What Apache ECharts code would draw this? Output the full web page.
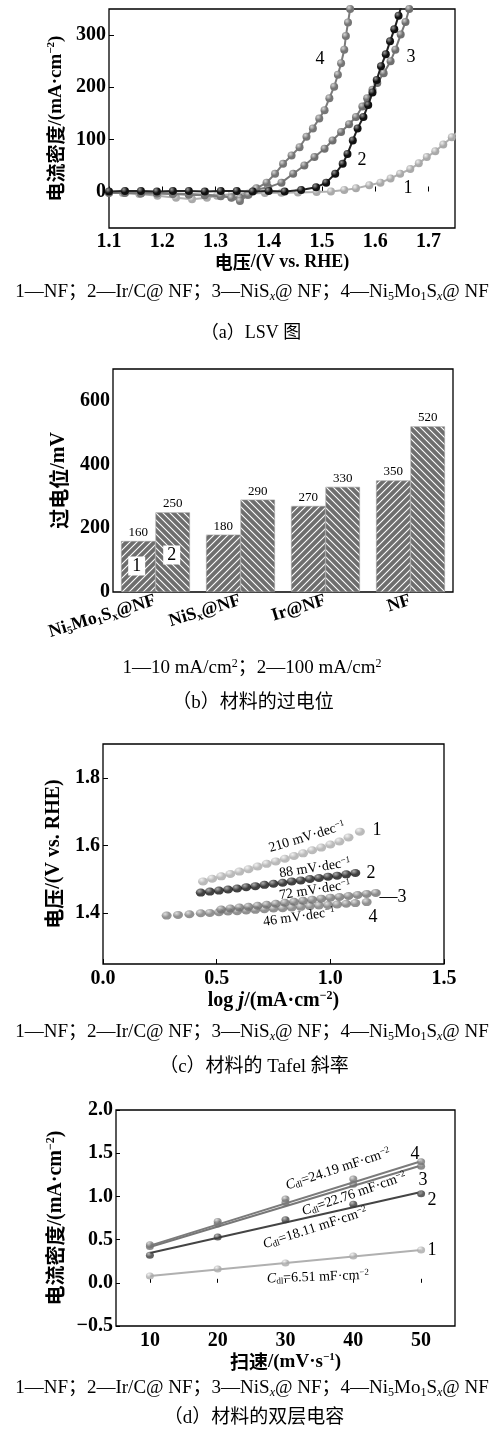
<!DOCTYPE html>
<html><head><meta charset="utf-8">
<script src="https://cdn.jsdelivr.net/npm/echarts@6/dist/echarts.min.js"></script>
<style>html,body{margin:0;padding:0;background:#fff}#c{width:499px;height:1437px}</style>
</head><body><div id="c"></div>
<script>
// ---------- Panel (a) LSV ----------
const lsvX1 = [1.10,1.126,1.157,1.191,1.226,1.256,1.284,1.303,1.331,1.362,1.393,1.424,1.455,1.49,1.517,1.542,1.564,1.589,1.61,1.629,1.647,1.666,1.682,1.697,1.713,1.728,1.744,1.76];
const lsvY1 = [-2,-3,-5,-8,-12,-15,-12,-8,-5,-4,-3,-2.5,-2,-1,0,3,6,12,17,25,34,43,54,66,77,90,104,118];
const lsvX2 = [1.10,1.13,1.16,1.19,1.22,1.25,1.28,1.31,1.34,1.37,1.40,1.43,1.461,1.489,1.508,1.525,1.539,1.548,1.558,1.567,1.578,1.587,1.595,1.603,1.611,1.62,1.628,1.636,1.644,1.652];
const lsvY2 = [0,1,1,0,1,1,0,1,1,0,1,0,3,8,17,34,53,72,98,121,143,166,190,214,240,263,288,311,337,365];
const lsvX3 = [1.10,1.13,1.16,1.19,1.22,1.25,1.28,1.31,1.33,1.346,1.36,1.374,1.399,1.424,1.446,1.467,1.486,1.505,1.52,1.536,1.551,1.564,1.576,1.585,1.595,1.604,1.616,1.629,1.638,1.648,1.657,1.664,1.67];
const lsvY3 = [-3,-3,-4,-4,-5,-6,-7,-9,-11,-12,-6,3,8,17,34,50,66,82,98,114,129,143,163,179,195,208,227,250,272,301,325,350,370];
const lsvX4 = [1.10,1.13,1.16,1.19,1.22,1.25,1.28,1.31,1.33,1.346,1.362,1.377,1.396,1.412,1.427,1.443,1.458,1.471,1.483,1.495,1.505,1.514,1.523,1.53,1.536,1.542,1.545,1.549,1.553,1.557];
const lsvY4 = [-2,-2,-3,-3,-4,-5,-6,-8,-12,-18,-6,6,17,34,53,69,85,105,121,140,156,179,201,224,246,272,298,324,350,372];
const lsvXTicks = [1.1,1.2,1.3,1.4,1.5,1.6,1.7];
const lsvYTicks = [0,100,200,300];

// ---------- Panel (b) overpotential ----------
const ovCats = ['Ni5Mo1Sx@NF','NiSx@NF','Ir@NF','NF'];
const ov10 = [160,180,270,350];
const ov100 = [250,290,330,520];

// ---------- Panel (c) Tafel ----------
const tfX1 = [0.44,0.48,0.52,0.56,0.60,0.64,0.68,0.72,0.76,0.80,0.84,0.88,0.92,0.96,1.00,1.04,1.08,1.13];
const tfY1 = [1.494,1.502,1.509,1.516,1.523,1.530,1.538,1.546,1.553,1.561,1.569,1.577,1.586,1.594,1.603,1.612,1.624,1.641];
const tfX2 = [0.43,0.47,0.51,0.55,0.59,0.63,0.67,0.71,0.75,0.79,0.83,0.87,0.91,0.95,0.99,1.03,1.07,1.11];
const tfY2 = [1.461,1.464,1.467,1.470,1.473,1.477,1.480,1.484,1.487,1.490,1.494,1.497,1.501,1.504,1.508,1.511,1.515,1.519];
const tfX3 = [0.52,0.56,0.60,0.64,0.68,0.72,0.76,0.80,0.84,0.88,0.92,0.96,1.00,1.04,1.08,1.12,1.16,1.20];
const tfY3 = [1.411,1.414,1.417,1.419,1.422,1.425,1.428,1.431,1.434,1.437,1.440,1.443,1.446,1.448,1.451,1.454,1.457,1.460];
const tfX4 = [0.28,0.33,0.38,0.43,0.47,0.51,0.55,0.59,0.63,0.67,0.71,0.75,0.79,0.83,0.87,0.91,0.95,0.99,1.03,1.07,1.11,1.16];
const tfY4 = [1.393,1.395,1.397,1.400,1.401,1.403,1.405,1.406,1.408,1.410,1.412,1.414,1.415,1.417,1.419,1.421,1.423,1.424,1.426,1.428,1.430,1.433];
const tfXTicks = [0.0,0.5,1.0,1.5];
const tfYTicks = [1.4,1.6,1.8];

// ---------- Panel (d) double-layer capacitance ----------
const cdlX = [10,20,30,40,50];
const cdlY1 = [0.08,0.16,0.23,0.31,0.38];
const cdlY2 = [0.32,0.53,0.73,0.91,1.03];
const cdlY3 = [0.42,0.68,0.93,1.14,1.35];
const cdlY4 = [0.44,0.71,0.97,1.20,1.40];
const fitX = [10,50];
const fitY1 = [0.08,0.38];
const fitY2 = [0.346,1.05];
const fitY3 = [0.415,1.358];
const fitY4 = [0.43,1.407];
const cdlXTicks = [10,20,30,40,50];
const cdlYTicks = [-0.5,0.0,0.5,1.0,1.5,2.0];

// ---------- helpers ----------
const SERIF = "'Liberation Serif','Noto Sans CJK SC',serif";
const CJK = "'Noto Sans CJK SC','Liberation Serif',sans-serif";
function zip(xs, ys){ return xs.map((x,i)=>[x, ys[i]]); }
function ball(base, hi){
  return {type:'radial', x:0.35, y:0.3, r:0.75, colorStops:[{offset:0,color:hi},{offset:0.55,color:base},{offset:1,color:base}]};
}
function hatch(dir){
  const c = document.createElement('canvas'); c.width = 7; c.height = 7;
  const g = c.getContext('2d');
  g.fillStyle = '#6e6e6e'; g.fillRect(0,0,7,7);
  g.strokeStyle = '#ffffff'; g.lineWidth = 1.1;
  g.beginPath();
  if (dir === '/') {
    g.moveTo(-1,8); g.lineTo(8,-1);
    g.moveTo(-4.5,4.5); g.lineTo(4.5,-4.5);
    g.moveTo(2.5,11.5); g.lineTo(11.5,2.5);
  } else {
    g.moveTo(-1,-1); g.lineTo(8,8);
    g.moveTo(-4.5,2.5); g.lineTo(4.5,11.5);
    g.moveTo(2.5,-4.5); g.lineTo(11.5,4.5);
  }
  g.stroke();
  return {image:c, repeat:'repeat'};
}
function richFor(size){
  const s = Math.round(size*0.62);
  const d = Math.round(size*0.45);
  return {
    sub:{font:s+'px '+SERIF, padding:[d,0,0,0]},
    subi:{font:'italic '+s+'px '+SERIF, padding:[d,0,0,0]},
    sup:{font:s+'px '+SERIF, padding:[0,0,d,0]},
    it:{font:'italic '+size+'px '+SERIF}
  };
}
function axisStyle(fs){
  return {fontFamily:SERIF, fontWeight:'bold', fontSize:fs, color:'#000'};
}
const C1 = {base:'#a9a9a9', hi:'#eeeeee', line:'#b0b0b0'};
const C2 = {base:'#111111', hi:'#9a9a9a', line:'#222222'};
const C3 = {base:'#6f6f6f', hi:'#d0d0d0', line:'#777777'};
const C4 = {base:'#767676', hi:'#d6d6d6', line:'#7b7b7b'};

const chart = echarts.init(document.getElementById('c'), null, {renderer:'canvas'});

const grids = [
  {left:109, top:9, width:346, height:219},
  {left:113, top:369, width:340, height:223},
  {left:103, top:744, width:341, height:220},
  {left:116, top:1110, width:339, height:216}
].map(g=>Object.assign({show:true, borderColor:'#000', borderWidth:1.3, backgroundColor:'transparent'}, g));

function nameStyle(fs){
  return {fontFamily:CJK, fontWeight:'bold', fontSize:fs, color:'#000', rich:{
    sup:{fontSize:Math.round(fs*0.6), padding:[0,0,Math.round(fs*0.45),0], fontFamily:SERIF, fontWeight:'bold'},
    it:{fontStyle:'italic', fontFamily:SERIF, fontWeight:'bold', fontSize:fs+1},
    b:{fontFamily:SERIF, fontWeight:'bold', fontSize:fs}
  }};
}

const xAxes = [
  {gridIndex:0, type:'value', min:1.1, max:1.75,
   axisLine:{show:false}, splitLine:{show:false},
   axisTick:{inside:true, length:5, lineStyle:{color:'#000'}, customValues:lsvXTicks},
   axisLabel:{customValues:lsvXTicks, formatter:v=>v.toFixed(1), margin:4, ...axisStyle(20)},
   name:'电压{b|/(V vs. RHE)}', nameLocation:'middle', nameGap:15, nameTextStyle:nameStyle(18)},
  {gridIndex:1, type:'category', data:ovCats,
   axisLine:{show:false}, axisTick:{show:false},
   axisLabel:{rotate:17, margin:8, ...axisStyle(18),
     formatter:v=>({'Ni5Mo1Sx@NF':'Ni{sub|5}Mo{sub|1}S{sub|x}@NF','NiSx@NF':'NiS{sub|x}@NF'}[v]||v),
     rich:{sub:{fontSize:11, padding:[9,0,0,0], fontFamily:SERIF, fontWeight:'bold'}}}},
  {gridIndex:2, type:'value', min:0, max:1.5,
   axisLine:{show:false}, splitLine:{show:false},
   axisTick:{inside:true, length:5, lineStyle:{color:'#000'}, customValues:tfXTicks},
   axisLabel:{customValues:tfXTicks, formatter:v=>v.toFixed(1), margin:5, ...axisStyle(20)},
   name:'{b|log }{it|j}{b|/(mA·cm}{sup|−2}{b|)}', nameLocation:'middle', nameGap:17, nameTextStyle:nameStyle(20)},
  {gridIndex:3, type:'value', min:5, max:55,
   axisLine:{show:false}, splitLine:{show:false},
   axisTick:{inside:true, length:4, lineStyle:{color:'#000'}, customValues:cdlXTicks},
   axisLabel:{customValues:cdlXTicks, margin:5, ...axisStyle(20)},
   name:'扫速{b|/(mV·s}{sup|−1}{b|)}', nameLocation:'middle', nameGap:17, nameTextStyle:nameStyle(19)}
];
const yAxes = [
  {gridIndex:0, type:'value', min:-70, max:350,
   axisLine:{show:false}, splitLine:{show:false},
   axisTick:{inside:true, length:5, lineStyle:{color:'#000'}, customValues:lsvYTicks},
   axisLabel:{customValues:lsvYTicks, margin:3, ...axisStyle(20)},
   name:'电流密度{b|/(mA·cm}{sup|−2}{b|)}', nameLocation:'middle', nameGap:39, nameTextStyle:nameStyle(19)},
  {gridIndex:1, type:'value', min:0, max:700, interval:200,
   axisLine:{show:false}, splitLine:{show:false},
   axisTick:{inside:true, length:6, lineStyle:{color:'#000'}},
   axisLabel:{margin:3, ...axisStyle(20), formatter:v=> v>600?'':v},
   name:'过电位{b|/mV}', nameLocation:'middle', nameGap:42, nameTextStyle:nameStyle(20)},
  {gridIndex:2, type:'value', min:1.25, max:1.9,
   axisLine:{show:false}, splitLine:{show:false},
   axisTick:{inside:true, length:5, lineStyle:{color:'#000'}, customValues:tfYTicks},
   axisLabel:{customValues:tfYTicks, formatter:v=>v.toFixed(1), margin:3, ...axisStyle(20)},
   name:'电压{b|/(V vs. RHE)}', nameLocation:'middle', nameGap:35, nameTextStyle:nameStyle(20)},
  {gridIndex:3, type:'value', min:-0.5, max:2.0,
   axisLine:{show:false}, splitLine:{show:false},
   axisTick:{inside:true, length:4, lineStyle:{color:'#000'}, customValues:cdlYTicks},
   axisLabel:{customValues:cdlYTicks, formatter:v=>(v<0?'−':'')+Math.abs(v).toFixed(1), margin:3, ...axisStyle(20)},
   name:'电流密度{b|/(mA·cm}{sup|−2}{b|)}', nameLocation:'middle', nameGap:42, nameTextStyle:nameStyle(20)}
];

function lsvSeries(xs, ys, col, z){
  return {type:'line', xAxisIndex:0, yAxisIndex:0, data:zip(xs,ys), clip:true, z:z,
    lineStyle:{color:col.line, width:2}, symbol:'circle', symbolSize:8, showAllSymbol:true,
    itemStyle:{color:ball(col.base,col.hi)}};
}
function tfSeries(xs, ys, col, z){
  return {type:'scatter', xAxisIndex:2, yAxisIndex:2, data:zip(xs,ys), z:z,
    symbol:'circle', symbolSize:[10,8], itemStyle:{color:ball(col.base,col.hi)}};
}
function cdlSeries(ys, fy, col, z){
  return [
    {type:'line', xAxisIndex:3, yAxisIndex:3, data:zip(fitX,fy), z:z, symbol:'none',
     lineStyle:{color:col.line, width:2}},
    {type:'scatter', xAxisIndex:3, yAxisIndex:3, data:zip(cdlX,ys), z:z+1,
     symbol:'circle', symbolSize:[8,7], itemStyle:{color:ball(col.base,col.hi)}}
  ];
}
const barLabel = {show:true, position:'top', distance:2, fontFamily:SERIF, fontSize:13, color:'#000'};

const series = [
  lsvSeries(lsvX1, lsvY1, C1, 2),
  lsvSeries(lsvX3, lsvY3, C3, 3),
  lsvSeries(lsvX4, lsvY4, C4, 4),
  lsvSeries(lsvX2, lsvY2, C2, 5),
  {type:'bar', xAxisIndex:1, yAxisIndex:1, data:ov10, barGap:'0%', barCategoryGap:'19%',
   itemStyle:{color:hatch('/'), borderColor:'#9a9a9a', borderWidth:0.6}, label:barLabel},
  {type:'bar', xAxisIndex:1, yAxisIndex:1, data:ov100, barGap:'0%', barCategoryGap:'19%',
   itemStyle:{color:hatch('\\'), borderColor:'#9a9a9a', borderWidth:0.6}, label:barLabel},
  tfSeries(tfX1, tfY1, C1, 2),
  tfSeries(tfX4, tfY4, C4, 3),
  tfSeries(tfX3, tfY3, C3, 4),
  tfSeries(tfX2, tfY2, C2, 5),
  ...cdlSeries(cdlY1, fitY1, C1, 2),
  ...cdlSeries(cdlY2, fitY2, {base:'#3a3a3a', hi:'#aaaaaa', line:'#444444'}, 4),
  ...cdlSeries(cdlY3, fitY3, C3, 6),
  ...cdlSeries(cdlY4, fitY4, C4, 8)
];

function txt(text, x, y, opt){
  opt = opt || {};
  const size = opt.size || 16;
  return {type:'text', x:x, y:y, rotation:(opt.rot||0)*Math.PI/180, z:100,
    style:Object.assign({text:text, fill:'#000', align:'center', verticalAlign:'middle',
      font:(opt.weight||'normal')+' '+size+'px '+(opt.family||SERIF), rich:richFor(size)}, opt.style||{})};
}
const legendLine = '1—NF；2—Ir/C@ NF；3—NiS{subi|x}@ NF；4—Ni{sub|5}Mo{sub|1}S{subi|x}@ NF';
const graphics = [
  // panel a
  txt('4', 320, 59, {size:18}), txt('3', 411, 57, {size:18}), txt('2', 362, 160, {size:18}), txt('1', 408, 188, {size:18}),
  txt(legendLine, 252, 292, {size:19}),
  txt('（a）LSV 图', 251, 333, {size:18}),
  // panel b
  txt('1', 136.7, 566, {size:18, style:{backgroundColor:'#fff', padding:[1,4,0,4]}}),
  txt('2', 171.7, 555, {size:18, style:{backgroundColor:'#fff', padding:[1,4,0,4]}}),
  txt('1—10 mA/cm{sup|2}；2—100 mA/cm{sup|2}', 252, 668, {size:19}),
  txt('（b）材料的过电位', 253, 703, {size:19}),
  // panel c
  txt('210 mV·dec{sup|−1}', 307, 837, {size:14, rot:17}),
  txt('88 mV·dec{sup|−1}', 315, 868, {size:14, rot:9}),
  txt('72 mV·dec{sup|−1}', 315, 890, {size:14, rot:9}),
  txt('46 mV·dec{sup|−1}', 299, 917, {size:14, rot:8}),
  txt('1', 377, 830, {size:18}), txt('2', 371, 873, {size:18}), txt('—3', 393, 897, {size:18}), txt('4', 373, 917, {size:18}),
  txt(legendLine, 252, 1032, {size:19}),
  txt('（c）材料的 Tafel 斜率', 254, 1067, {size:19}),
  // panel d
  txt('{it|C}{sub|dl}=24.19 mF·cm{sup|−2}', 338, 1169, {size:14, rot:18}),
  txt('{it|C}{sub|dl}=22.76 mF·cm{sup|−2}', 354, 1194, {size:14, rot:19}),
  txt('{it|C}{sub|dl}=18.11 mF·cm{sup|−2}', 315, 1228, {size:14, rot:18}),
  txt('{it|C}{sub|dl}=6.51 mF·cm{sup|−2}', 318, 1277, {size:14, rot:2}),
  txt('4', 415, 1154, {size:18}), txt('3', 423, 1180, {size:18}), txt('2', 432, 1200, {size:18}), txt('1', 432, 1250, {size:18}),
  txt(legendLine, 252, 1388, {size:19}),
  txt('（d）材料的双层电容', 254, 1418, {size:19})
];

chart.setOption({
  animation:false,
  backgroundColor:'#fff',
  grid:grids, xAxis:xAxes, yAxis:yAxes, series:series, graphic:graphics
});
</script></body></html>
